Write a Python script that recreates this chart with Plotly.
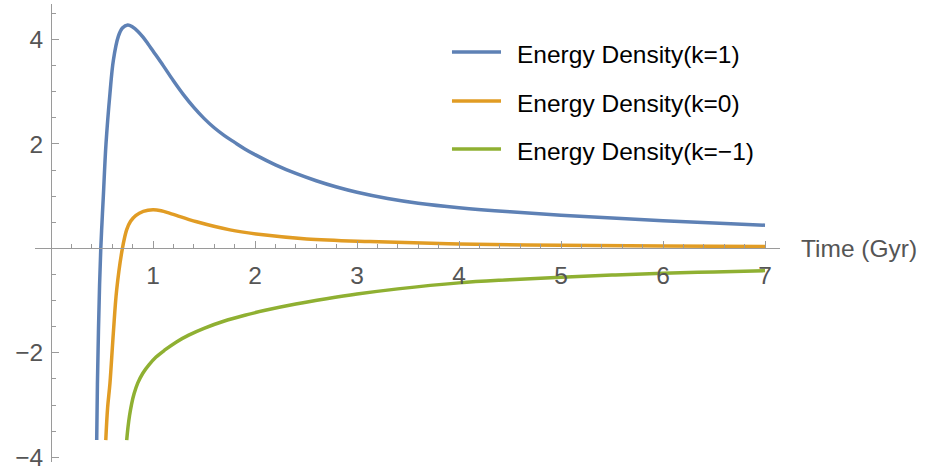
import plotly.graph_objects as go

# Energy density vs cosmic time for closed, flat and open universes
series_names = ["Energy Density(k=1)", "Energy Density(k=0)", "Energy Density(k=\u22121)"]
series_colors = ["#5E81B5", "#E19C24", "#8FB032"]

t_k1 = [0.448, 0.455, 0.465, 0.476, 0.488, 0.500, 0.513, 0.539, 0.578, 0.611, 0.660,
        0.700, 0.752, 0.800, 0.850, 0.900, 0.950, 1.000, 1.100, 1.200, 1.300, 1.400,
        1.500, 1.600, 1.700, 1.800, 1.900, 2.000, 2.200, 2.400, 2.600, 2.800, 3.000,
        3.300, 3.600, 4.000, 4.500, 5.000, 5.500, 6.000, 6.500, 7.000]
rho_k1 = [-3.67, -2.60, -1.60, -0.70, 0.00, 0.50, 1.00, 2.00, 2.97, 3.60, 4.06,
          4.22, 4.28, 4.24, 4.16, 4.05, 3.92, 3.78, 3.50, 3.21, 2.94, 2.70,
          2.49, 2.31, 2.16, 2.03, 1.905, 1.795, 1.60, 1.435, 1.295, 1.175, 1.075,
          0.955, 0.865, 0.78, 0.70, 0.635, 0.58, 0.53, 0.485, 0.445]

t_k0 = [0.537, 0.555, 0.578, 0.611, 0.644, 0.700, 0.742, 0.780, 0.830, 0.905, 1.000,
        1.080, 1.167, 1.428, 1.755, 2.080, 2.507, 3.127, 4.000, 5.000, 6.000, 7.000]
rho_k0 = [-3.67, -3.05, -2.58, -1.62, -0.79, 0.00, 0.36, 0.52, 0.63, 0.71, 0.74,
          0.72, 0.67, 0.51, 0.355, 0.26, 0.18, 0.13, 0.085, 0.06, 0.045, 0.035]

t_km1 = [0.742, 0.755, 0.770, 0.790, 0.815, 0.850, 0.900, 0.960, 1.030, 1.120, 1.230,
         1.350, 1.500, 1.700, 1.900, 2.100, 2.400, 2.700, 3.000, 3.400, 4.000, 4.500,
         5.000, 5.500, 6.000, 6.500, 7.000]
rho_km1 = [-3.67, -3.42, -3.20, -2.98, -2.78, -2.58, -2.39, -2.23, -2.08, -1.94, -1.79,
           -1.66, -1.53, -1.39, -1.28, -1.185, -1.065, -0.965, -0.875, -0.775, -0.66, -0.60,
           -0.55, -0.51, -0.475, -0.45, -0.425]

x_major = [1, 2, 3, 4, 5, 6, 7]
y_major = [-4, -2, 2, 4]
y_major_text = ["\u22124", "\u22122", "2", "4"]

x_range = [-0.157, 7.147]
y_range = [-4.09, 4.68]

FONT = "Liberation Sans, Arial, sans-serif"
FS = 24.5
AXIS_GRAY = "#9a9a9a"
LABEL_GRAY = "#555555"

fig = go.Figure()
for name, color, t, rho in zip(series_names, series_colors,
                               [t_k1, t_k0, t_km1], [rho_k1, rho_k0, rho_km1]):
    fig.add_trace(go.Scatter(x=t, y=rho, mode="lines", name=name,
                             line=dict(color=color, width=3.5, shape="spline", smoothing=1.0),
                             showlegend=False))

# axes cross at the origin
x_pos = (0 - x_range[0]) / (x_range[1] - x_range[0])
y_pos = (0 - y_range[0]) / (y_range[1] - y_range[0])

x_minor = [round(0.2 * i, 1) for i in range(1, 36) if i % 5 != 0]
y_minor = [v / 2 for v in range(-7, 10) if v % 4 != 0 and v != 0]

fig.update_layout(
    width=925, height=476,
    margin=dict(l=35, r=145, t=4, b=14),
    paper_bgcolor="white", plot_bgcolor="white",
    xaxis=dict(range=x_range, domain=[0, 1], anchor="free", position=y_pos,
               showgrid=False, zeroline=False, showline=True, linecolor=AXIS_GRAY, linewidth=1,
               tickmode="array", tickvals=x_major, ticktext=[str(v) for v in x_major],
               ticks="inside", ticklen=7, tickcolor=AXIS_GRAY, tickwidth=1,
               ticklabelstandoff=5,
               minor=dict(tickmode="array", tickvals=x_minor, ticks="inside", ticklen=4,
                          tickcolor=AXIS_GRAY, tickwidth=1),
               tickfont=dict(family=FONT, size=FS, color=LABEL_GRAY), automargin=False),
    yaxis=dict(range=y_range, domain=[0, 1], anchor="free", position=x_pos,
               showgrid=False, zeroline=False, showline=True, linecolor=AXIS_GRAY, linewidth=1,
               tickmode="array", tickvals=y_major, ticktext=y_major_text,
               ticks="inside", ticklen=7, tickcolor=AXIS_GRAY, tickwidth=1,
               ticklabelstandoff=3,
               minor=dict(tickmode="array", tickvals=y_minor, ticks="inside", ticklen=4,
                          tickcolor=AXIS_GRAY, tickwidth=1),
               tickfont=dict(family=FONT, size=FS, color=LABEL_GRAY), automargin=False),
)

fig.add_annotation(text="Time (Gyr)", xref="paper", yref="y", x=1.026, y=0,
                   xanchor="left", yanchor="middle", showarrow=False,
                   font=dict(family=FONT, size=FS, color=LABEL_GRAY))

# legend drawn as line swatches with labels
legend_y = [0.8952, 0.7882, 0.6834]
for name, color, ly in zip(series_names, series_colors, legend_y):
    fig.add_shape(type="line", xref="paper", yref="paper", x0=0.5597, x1=0.6255, y0=ly, y1=ly,
                  line=dict(color=color, width=3.5))
    fig.add_annotation(text=name, xref="paper", yref="paper", x=0.6443, y=ly - 0.006,
                       xanchor="left", yanchor="middle", showarrow=False,
                       font=dict(family=FONT, size=FS, color="black"))

fig.write_html("out.html")
